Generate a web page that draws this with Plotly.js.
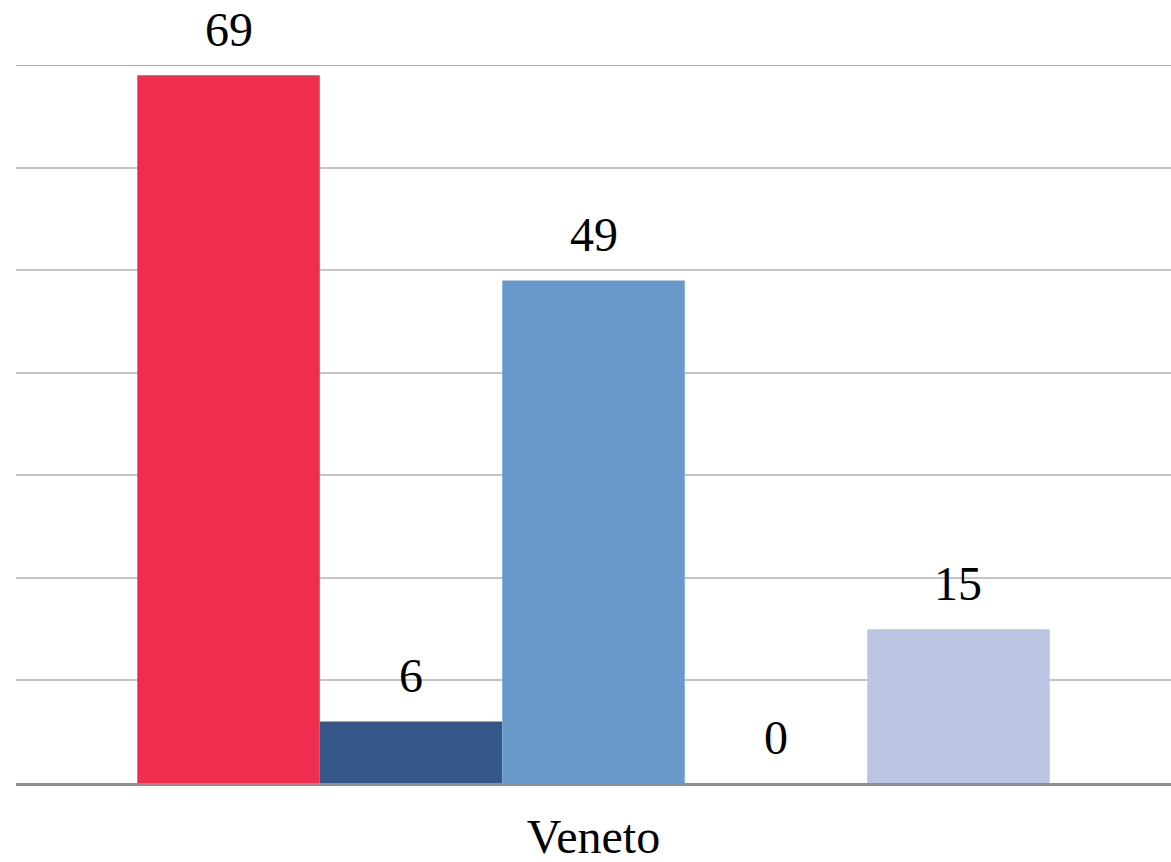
<!DOCTYPE html>
<html>
<head>
<meta charset="utf-8">
<script src="https://cdn.plot.ly/plotly-3.0.1.min.js"></script>
<style>html,body{margin:0;padding:0;background:#fff;}#chart{width:1171px;height:862px;}</style>
</head>
<body>
<div id="chart"></div>
<script>
// Single region, five series shown side by side
const categories = ["Veneto"];
const seriesNames = ["Serie 1", "Serie 2", "Serie 3", "Serie 4", "Serie 5"];
const seriesValues = [[69], [6], [49], [0], [15]];
const seriesColors = ["#EF2D4E", "#355689", "#679ACB", "#4F6FA8", "#BAC4E3"];
const yMax = 70;

const barGap = 0.21;
const serifFont = "Liberation Serif, Times New Roman, serif";

const traces = seriesValues.map((vals, i) => ({
  type: "bar",
  name: seriesNames[i],
  x: categories,
  y: vals,
  marker: {color: seriesColors[i], line: {width: 0}},
  hoverinfo: "y"
}));

// Value labels above each bar, positioned at the bar's slot within the group
const n = seriesValues.length;
const slot = (1 - barGap) / n;
const annotations = [];
seriesValues.forEach((vals, i) => {
  vals.forEach((v, c) => {
    annotations.push({
      x: c - (1 - barGap) / 2 + slot * (i + 0.5),
      y: v,
      xref: "x", yref: "y",
      text: String(v),
      showarrow: false,
      yanchor: "bottom",
      yshift: 17,
      font: {family: serifFont, size: 48, color: "#000"}
    });
  });
});

const layout = {
  width: 1171,
  height: 862,
  margin: {l: 16, r: 0, t: 65, b: 79},
  paper_bgcolor: "#fff",
  plot_bgcolor: "#fff",
  barmode: "group",
  bargap: barGap,
  bargroupgap: 0,
  showlegend: false,
  font: {family: serifFont, color: "#000"},
  xaxis: {
    type: "category",
    showline: true,
    linecolor: "#8f8f8f",
    linewidth: 3,
    ticks: "",
    tickfont: {family: serifFont, size: 48, color: "#000"},
    ticklabelstandoff: 9,
    showgrid: false,
    zeroline: false
  },
  yaxis: {
    range: [0, yMax],
    dtick: 10,
    showticklabels: false,
    ticks: "",
    showgrid: true,
    gridcolor: "#c4c4c4",
    gridwidth: 2,
    zeroline: false,
    showline: false
  },
  // top gridline sits on the plot edge, so draw it explicitly
  shapes: [{
    type: "line", xref: "paper", yref: "y",
    x0: 0, x1: 1, y0: yMax, y1: yMax,
    line: {color: "#a8a8a8", width: 2}
  }],
  annotations: annotations
};

Plotly.newPlot("chart", traces, layout, {displayModeBar: false, staticPlot: true});
</script>
</body>
</html>
